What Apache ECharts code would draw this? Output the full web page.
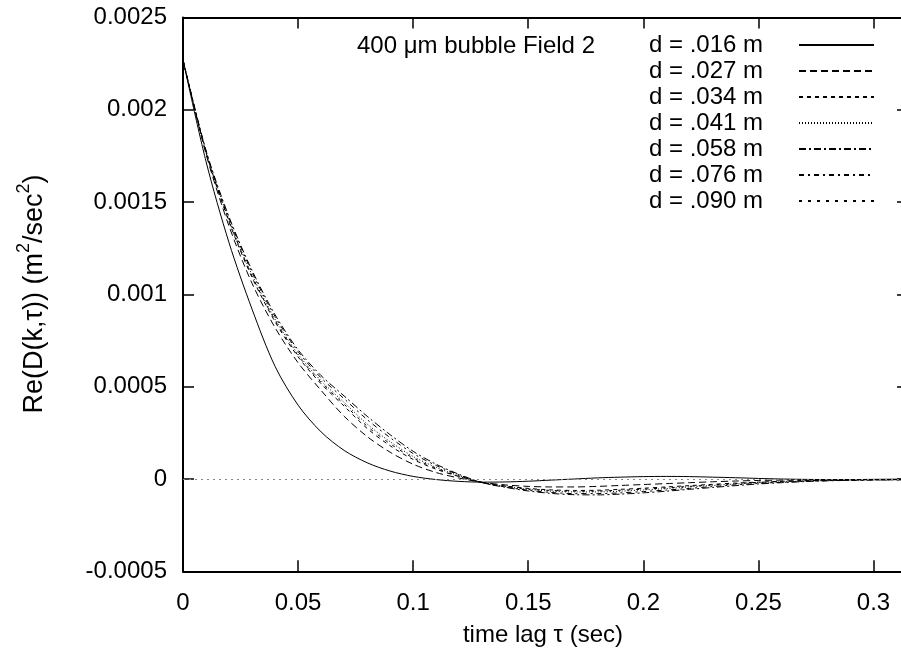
<!DOCTYPE html>
<html>
<head>
<meta charset="utf-8">
<script src="https://cdn.jsdelivr.net/npm/echarts@6/dist/echarts.min.js"></script>
<style>
  html, body { margin: 0; padding: 0; background: #fff; }
  #main { width: 901px; height: 657px; }
</style>
</head>
<body>
<div id="main"></div>
<script>
// time lag (sec)
var tau = [0, 0.01, 0.02, 0.03, 0.04, 0.05, 0.06, 0.07, 0.08, 0.09, 0.10,
           0.11, 0.12, 0.13, 0.14, 0.15, 0.16, 0.17, 0.18, 0.19, 0.20,
           0.21, 0.22, 0.23, 0.24, 0.25, 0.26, 0.27, 0.28, 0.29, 0.30, 0.31, 0.32];

var names = ['d = .016 m', 'd = .027 m', 'd = .034 m', 'd = .041 m', 'd = .058 m', 'd = .076 m', 'd = .090 m'];

// Re(D(k,tau)), m^2/sec^2
var d016 = [0.00227, 0.00172, 0.00128, 0.00092, 0.00061, 0.0004, 0.000255, 0.000155, 0.000088, 0.000043, 0.000014,
            -0.000003, -0.000013, -0.000017, -0.000016, -0.000012, -0.000006, 0, 0.000006, 0.00001, 0.000013,
            0.000014, 0.000013, 0.00001, 0.000007, 0.000003, 0, -0.000002, -0.000003, -0.000003, -0.000002, -0.000001, 0];
var d027 = [0.00227, 0.00176, 0.00137, 0.00106, 0.00082, 0.00063, 0.00048, 0.00034, 0.00023, 0.000145, 0.00008,
            0.000035, 0.000005, -0.000018, -0.000032, -0.00004, -0.000043, -0.000043, -0.00004, -0.000035, -0.00003,
            -0.000025, -0.00002, -0.000015, -0.000011, -0.000008, -0.000006, -0.000005, -0.000004, -0.000004, -0.000003, -0.000003, -0.000002];
var d034 = [0.00227, 0.001769, 0.001393, 0.001092, 0.000852, 0.000662, 0.000516, 0.000395, 0.000274, 0.00018, 0.000106,
            0.000053, 0.000013, -0.000019, -0.000038, -0.000051, -0.000059, -0.000062, -0.000061, -0.000056, -0.00005,
            -0.000043, -0.000036, -0.000029, -0.000022, -0.000017, -0.000012, -0.000009, -0.000007, -0.000005, -0.000004, -0.000003, -0.000002];
var d041 = [0.00227, 0.001773, 0.001403, 0.001106, 0.000866, 0.000676, 0.000532, 0.000415, 0.000298, 0.000202, 0.000122,
            0.000063, 0.000017, -0.000019, -0.00004, -0.000056, -0.000066, -0.00007, -0.00007, -0.000066, -0.000059,
            -0.000052, -0.000043, -0.000035, -0.000027, -0.00002, -0.000015, -0.000011, -0.000008, -0.000006, -0.000004, -0.000004, -0.000003];
var d058 = [0.00227, 0.00178, 0.00142, 0.00113, 0.00089, 0.0007, 0.00056, 0.00045, 0.00034, 0.00024, 0.00015,
            0.00008, 0.000025, -0.00002, -0.000045, -0.000065, -0.000078, -0.000085, -0.000086, -0.000082, -0.000075,
            -0.000066, -0.000056, -0.000046, -0.000036, -0.000027, -0.00002, -0.000014, -0.00001, -0.000007, -0.000005, -0.000004, -0.000003];
var d076 = [0.00227, 0.001777, 0.001413, 0.00112, 0.00088, 0.00069, 0.000548, 0.000435, 0.000322, 0.000224, 0.000138,
            0.000073, 0.000022, -0.00002, -0.000043, -0.000061, -0.000073, -0.000079, -0.000079, -0.000075, -0.000068,
            -0.00006, -0.000051, -0.000041, -0.000032, -0.000024, -0.000018, -0.000013, -0.000009, -0.000007, -0.000005, -0.000004, -0.000003];
var d090 = [0.00227, 0.001771, 0.001398, 0.001099, 0.000859, 0.000669, 0.000524, 0.000405, 0.000286, 0.000191, 0.000114,
            0.000058, 0.000015, -0.000019, -0.000039, -0.000054, -0.000062, -0.000066, -0.000065, -0.000061, -0.000055,
            -0.000048, -0.00004, -0.000032, -0.000025, -0.000018, -0.000014, -0.00001, -0.000007, -0.000006, -0.000004, -0.000004, -0.000003];

var values = [d016, d027, d034, d041, d058, d076, d090];
var dashes = ['solid', [7, 4], [4, 4], [1, 2], [7, 3, 2, 3], [5, 4, 2, 4], [3, 6]];

var FONT = 'Liberation Sans';
var myChart = echarts.init(document.getElementById('main'));

function pairs(ys) {
  var out = [];
  for (var i = 0; i < tau.length; i++) out.push([tau[i], ys[i]]);
  return out;
}

var series = [];
for (var k = 0; k < names.length; k++) {
  var s = {
    name: names[k],
    type: 'line',
    data: pairs(values[k]),
    symbol: 'none',
    showSymbol: false,
    smooth: 0.3,
    lineStyle: { color: '#000', width: 1, type: dashes[k] },
    itemStyle: { color: '#000' }
  };
  if (k === 0) {
    s.markLine = {
      silent: true,
      symbol: ['none', 'none'],
      label: { show: false },
      lineStyle: { color: '#888', width: 1, type: [2, 4] },
      data: [{ yAxis: 0 }]
    };
  }
  series.push(s);
}

var axisLine = { show: true, onZero: false, lineStyle: { color: '#000', width: 2 } };
var axisTick = { show: true, inside: true, length: 11, lineStyle: { color: '#000', width: 1.5 } };

var option = {
  animation: false,
  backgroundColor: '#fff',
  // right border sits just past the image edge, as in the original
  grid: { left: 183, top: 17.5, width: 725, height: 553.8, outerBoundsMode: 'none' },
  xAxis: [
    {
      type: 'value', min: 0, max: 0.315, interval: 0.05, position: 'bottom',
      axisLine: axisLine, axisTick: axisTick, splitLine: { show: false },
      axisLabel: {
        margin: 20, color: '#000', fontFamily: FONT, fontSize: 24, showMaxLabel: false,
        formatter: function (v) { return String(Math.round(v * 100) / 100); }
      }
    },
    {
      type: 'value', min: 0, max: 0.315, interval: 0.05, position: 'top',
      axisLine: axisLine, axisTick: axisTick, splitLine: { show: false },
      axisLabel: { show: false }
    }
  ],
  yAxis: [
    {
      type: 'value', min: -0.0005, max: 0.0025, interval: 0.0005, position: 'left',
      axisLine: axisLine, axisTick: axisTick, splitLine: { show: false },
      axisLabel: {
        margin: 16, color: '#000', fontFamily: FONT, fontSize: 24,
        formatter: function (v) { return String(Math.round(v * 10000) / 10000); }
      }
    },
    {
      type: 'value', min: -0.0005, max: 0.0025, interval: 0.0005, position: 'right',
      axisLine: axisLine, axisTick: axisTick, splitLine: { show: false },
      axisLabel: { show: false }
    }
  ],
  legend: {
    orient: 'vertical',
    right: 26,
    top: 32,
    padding: 0,
    align: 'right',
    itemWidth: 75,
    itemHeight: 14,
    itemGap: 0,
    data: names,
    itemStyle: { opacity: 0 },
    textStyle: { fontFamily: FONT, fontSize: 24, color: '#000', lineHeight: 26, padding: [0, 31, 0, 0] }
  },
  graphic: [
    {
      type: 'text', x: 357, y: 46,
      style: { text: '400 \u03bcm bubble Field 2', fontFamily: FONT, fontSize: 24, fill: '#000', align: 'left', verticalAlign: 'middle' }
    },
    {
      type: 'text', x: 543, y: 635,
      style: { text: 'time lag \u03c4 (sec)', fontFamily: FONT, fontSize: 24, fill: '#000', align: 'center', verticalAlign: 'middle' }
    },
    {
      type: 'text', x: 32, y: 294, rotation: Math.PI / 2,
      style: {
        text: '{a|Re(D(k,\u03c4)) (m}{s|2}{a|/sec}{s|2}{a|)}',
        align: 'center', verticalAlign: 'middle', fill: '#000',
        rich: {
          a: { fontFamily: FONT, fontSize: 27, lineHeight: 33, verticalAlign: 'bottom' },
          s: { fontFamily: FONT, fontSize: 18, lineHeight: 18, verticalAlign: 'top' }
        }
      }
    }
  ],
  series: series
};

myChart.setOption(option);
</script>
</body>
</html>
